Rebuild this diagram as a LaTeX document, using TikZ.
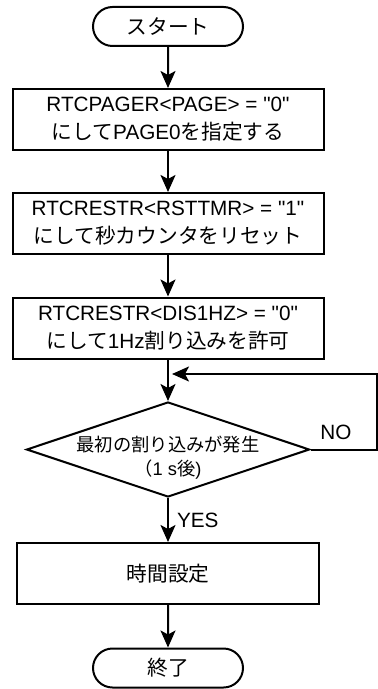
\documentclass[tikz,border=0pt]{standalone}
\usepackage{fontspec}
\defaultfontfeatures[\rmfamily]{}
\setmainfont{Liberation Sans}
\newfontfamily\jpfont{Noto Sans CJK JP}
\usetikzlibrary{arrows.meta, positioning, shapes.geometric, shapes.misc}

\begin{document}
\begin{tikzpicture}[
  x=0.5pt, y=-0.5pt,
  >={Stealth[length=8.5pt, width=7.5pt, inset=2pt]},
  line width=1pt,
  every node/.style={inner sep=2pt, font=\fontsize{10.35}{14}\selectfont},
  terminal/.style={draw, rounded rectangle, minimum width=75pt,
    minimum height=19.5pt, inner sep=0pt},
  procbox/.style={draw, rectangle, minimum width=155.5pt,
    minimum height=30.5pt, align=center, inner sep=0pt},
  decision/.style={draw, diamond, minimum width=141.5pt,
    minimum height=47.5pt, inner sep=0pt},
]

% ── Layout constants (pixel grid of the sheet) ───────────────────────────────
\def\cx{168}        % centre line of the flow
\def\rx{377}        % x of the return line at the right edge
\def\jy{374}        % y where the return line joins the flow

\useasboundingbox (0,0) rectangle (378,689);

% ── Flow nodes ───────────────────────────────────────────────────────────────
\node[terminal] (start) at (\cx, 26.5) {\jpfont スタート};

\node[procbox] (page) at (\cx, 119.5)
  {RTCPAGER<PAGE> = "0"\\{\jpfont にして}PAGE0{\jpfont を指定する}};

\node[procbox] (rsttmr) at (\cx, 223.5)
  {RTCRESTR<RSTTMR> = "1"\\{\jpfont にして秒カウンタをリセット}};

\node[procbox] (dis1hz) at (\cx, 328)
  {RTCRESTR<DIS1HZ> = "0"\\{\jpfont にして}1Hz{\jpfont 割り込みを許可}};

% Decision: text sits a little below the diamond centre
\node[decision] (irq) at (\cx, 449.5) {};
\node[align=center, font=\fontsize{9.15}{12}\selectfont] (irqtxt) at (\cx, 458)
  {{\jpfont 最初の割り込みが発生}\\{\jpfont （}1 s{\jpfont 後})};

\node[procbox, minimum width=151pt] (settime) at (\cx, 573.5)
  {\jpfont 時間設定};

\node[terminal] (stop) at (\cx, 668) {\jpfont 終了};

% ── Connectors ───────────────────────────────────────────────────────────────
\coordinate (join) at (\cx, \jy);
\coordinate (loopR) at (\rx, \jy);

\draw[->] (start) -- (page);
\draw[->] (page) -- (rsttmr);
\draw[->] (rsttmr) -- (dis1hz);
\draw[->] (dis1hz) -- (irq);
\draw[->] (irq) -- node[right, xshift=2pt] (yeslbl) {YES} (settime);
\draw[->] (settime) -- (stop);

% Return line: NO branch back into the flow
\draw[->] (irq.east) -| (loopR) -- ([xshift=2pt]join);
\node (nolbl) at (336, 432) {NO};

\end{tikzpicture}
\end{document}
